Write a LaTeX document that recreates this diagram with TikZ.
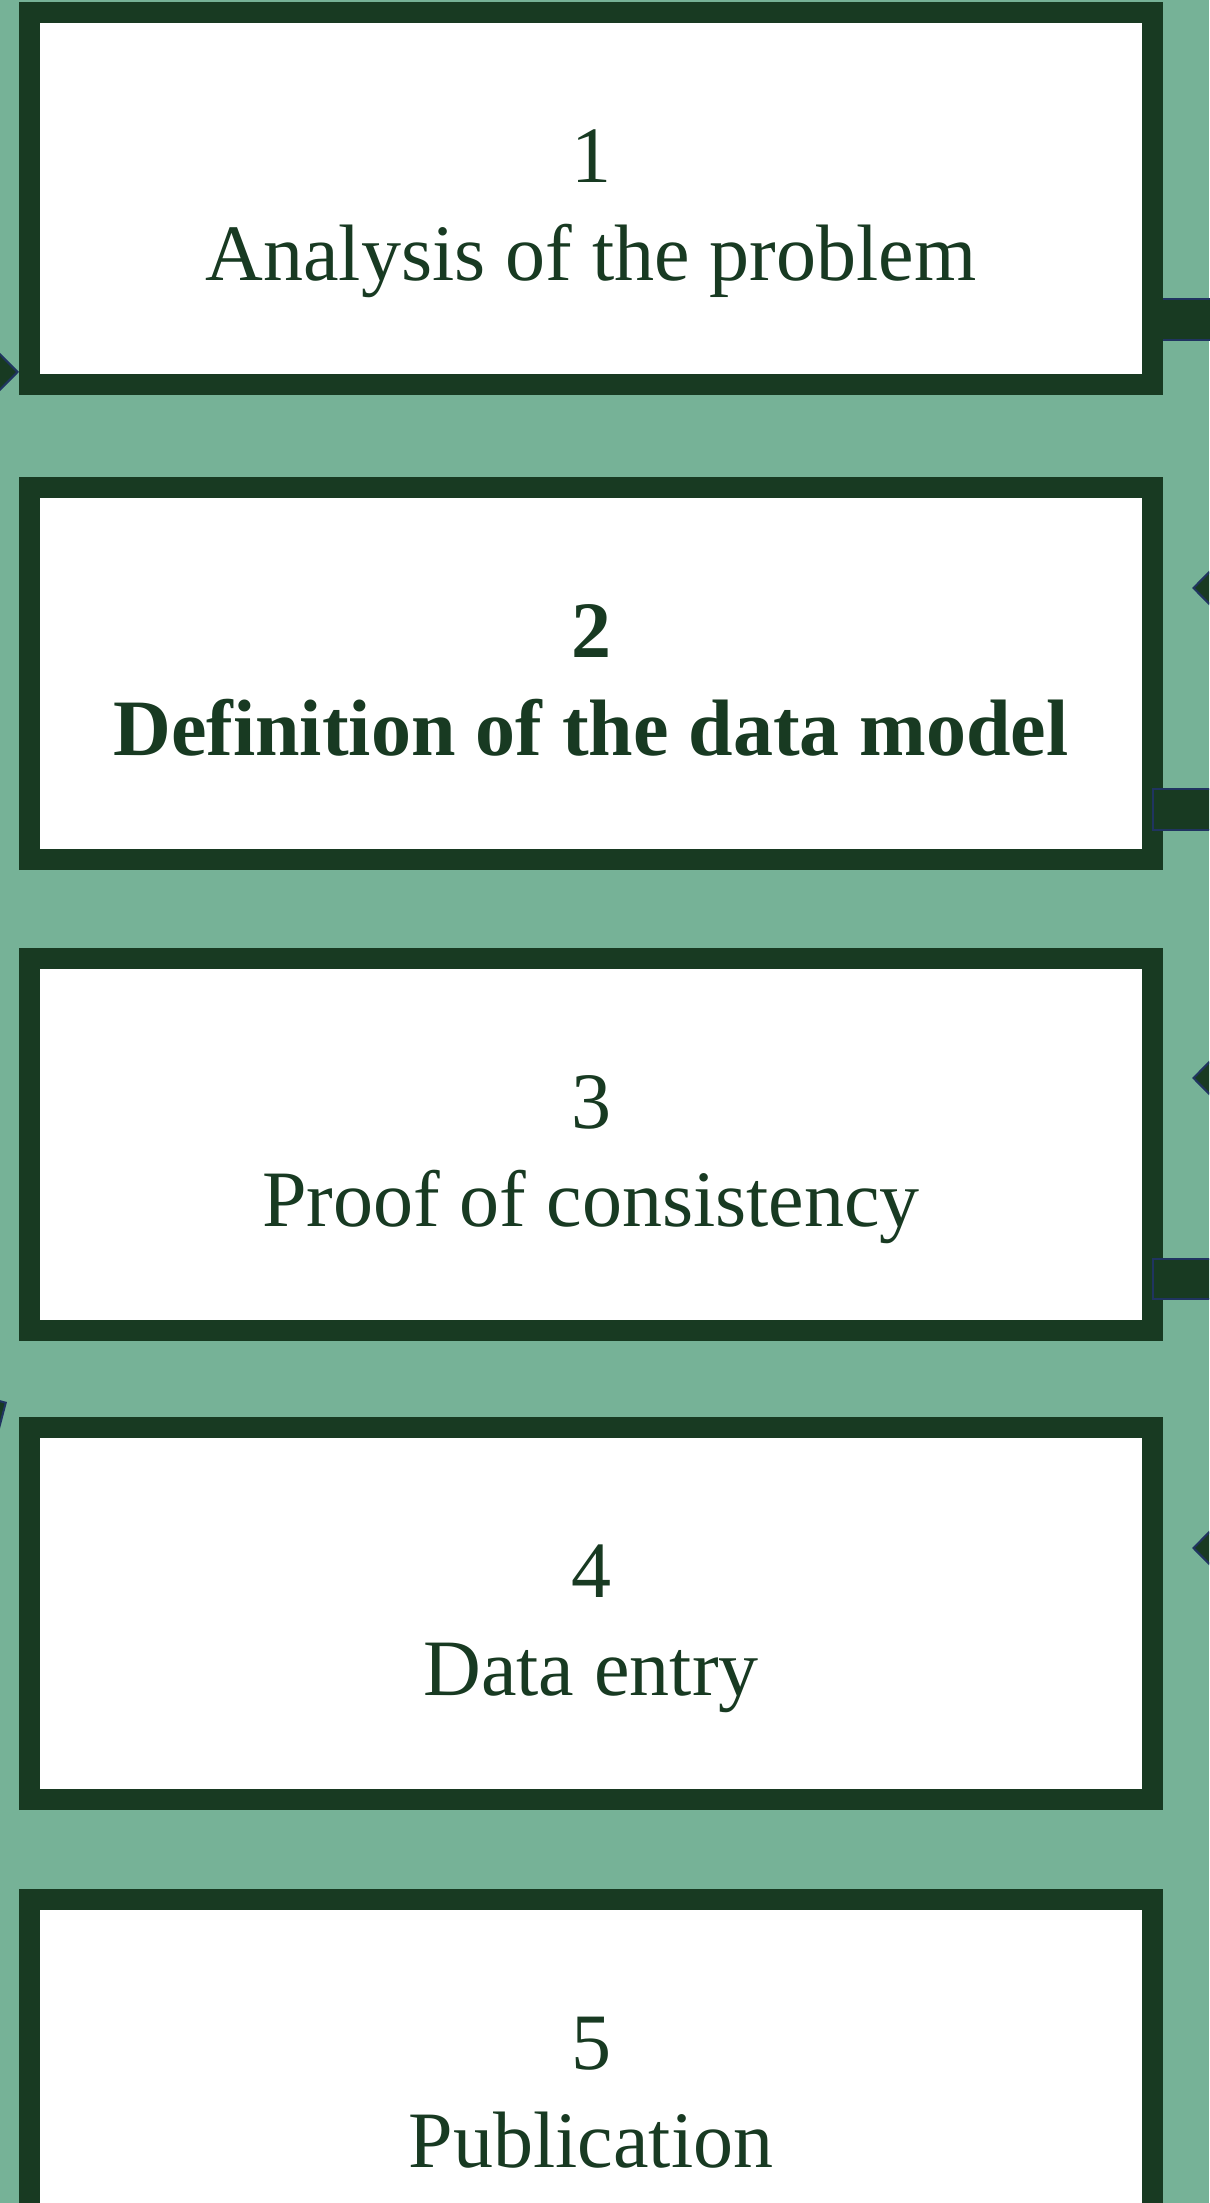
\documentclass[tikz,border=0pt]{standalone}
\usepackage{fontspec}
\setmainfont{Liberation Serif}
\usetikzlibrary{arrows.meta}

\definecolor{bggreen}{RGB}{118,178,151}
\definecolor{dkgreen}{RGB}{24,58,34}
\definecolor{edgeblue}{RGB}{32,52,96}

\pgfdeclarelayer{back}
\pgfsetlayers{back,main}

\tikzset{
  stage/.style={draw=dkgreen, fill=white, line width=10.5pt, minimum width=561.5pt,
                minimum height=186pt, inner sep=0pt, outer sep=0pt},
  caption/.style={text=dkgreen, align=center, inner sep=0pt,
                  font=\fontsize{40}{49}\selectfont},
  bar/.style={draw=edgeblue, fill=dkgreen, line width=1pt},
  flow/.style={draw=edgeblue, line width=1pt,
               -{Triangle[length=20pt,width=40pt,fill=dkgreen]}},
}

\begin{document}
\begin{tikzpicture}[x=0.5pt, y=-0.5pt]

\useasboundingbox (0,0) rectangle (1209,2203);
\begin{pgfonlayer}{back}
\fill[bggreen] (0,0) rectangle (1209,2203);
\end{pgfonlayer}
\clip (0,0) rectangle (1209,2203);

%% steps
\node[stage] (s1) at (591,199) {};
\node[stage] (s2) at (591,673.5) {};
\node[stage] (s3) at (591,1144.5) {};
\node[stage] (s4) at (591,1613.5) {};
\node[stage] (s5) at (591,2085.5) {};

\node[caption] (c1) at ([yshift=-6.45pt]s1.center) {\strut 1\\\strut Analysis of the problem};
\node[caption, font=\fontsize{40}{49}\selectfont\bfseries] (c2) at ([yshift=-6.45pt]s2.center) {\strut 2\\\strut Definition of the data model};
\node[caption] (c3) at ([yshift=-6.45pt]s3.center) {\strut 3\\\strut Proof of consistency};
\node[caption] (c4) at ([yshift=-6.45pt]s4.center) {\strut 4\\\strut Data entry};
\node[caption] (c5) at ([yshift=-6.45pt]s5.center) {\strut 5\\\strut Publication};

%% outgoing bars (right)
\coordinate (e1) at (1260,340);
\coordinate (e2) at (1260,830);
\coordinate (e3) at (1260,1299);
\begin{pgfonlayer}{back}
\draw[bar] ([yshift=-50pt]s1.east) rectangle (e1);
\end{pgfonlayer}
\draw[bar] ([yshift=-57.75pt]s2.east) rectangle (e2);
\draw[bar] ([yshift=-57.25pt]s3.east) rectangle (e3);

%% incoming arrows (right)
\coordinate (r2) at (1300,588);
\coordinate (r3) at (1300,1078);
\coordinate (r4) at (1300,1548);
\draw[flow] (r2) -- ([xshift=19.75pt]s2.east |- r2);
\draw[flow] (r3) -- ([xshift=19.75pt]s3.east |- r3);
\draw[flow] (r4) -- ([xshift=19.75pt]s4.east |- r4);

%% incoming arrows (left)
\coordinate (l1) at (-80,372);
\draw[flow] (l1) -- ([xshift=-5.25pt]s1.west |- l1);
\coordinate (l4) at (-62,1442);
\draw[flow] (l4) -- ([xshift=-11.25pt,yshift=12.75pt]s4.north west);

\end{tikzpicture}
\end{document}
